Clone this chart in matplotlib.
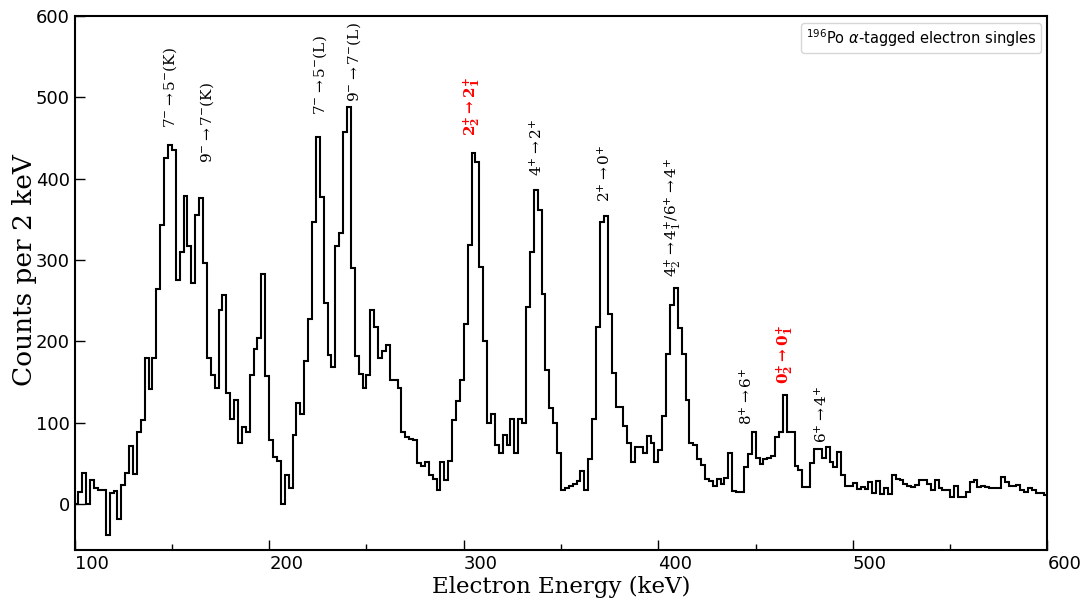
import matplotlib
matplotlib.use('Agg')
import matplotlib.pyplot as plt
from matplotlib.lines import Line2D
import numpy as np

# 2 keV bins from 100 to 600 keV
bin_lo = 100
bin_hi = 600
bin_w = 2

counts = [
    0, 15, 38, 0, 29, 20, 17, 17, -38, 13,            # 100-120
    16, -18, 23, 38, 71, 37, 89, 103, 180, 141,       # 120-140
    179, 264, 343, 425, 442, 435, 275, 310, 379, 317, # 140-160
    272, 356, 376, 296, 180, 158, 143, 239, 257, 137, # 160-180
    104, 128, 75, 94, 88, 158, 190, 204, 283, 157,    # 180-200
    79, 58, 53, 0, 36, 19, 85, 124, 111, 176,         # 200-220
    227, 347, 451, 378, 247, 183, 168, 317, 333, 457, # 220-240
    488, 290, 182, 160, 142, 158, 238, 218, 180, 188, # 240-260
    195, 153, 153, 143, 89, 82, 80, 79, 50, 47,       # 260-280
    52, 36, 30, 17, 51, 29, 53, 103, 126, 153,        # 280-300
    221, 318, 432, 421, 292, 201, 100, 111, 72, 63,   # 300-320
    85, 72, 104, 62, 104, 100, 242, 310, 386, 362,    # 320-340
    258, 165, 118, 100, 62, 17, 20, 22, 25, 28,       # 340-360
    40, 17, 55, 105, 218, 347, 354, 234, 161, 119,    # 360-380
    119, 96, 75, 52, 70, 70, 62, 83, 75, 52,          # 380-400
    66, 108, 185, 245, 265, 216, 185, 128, 75, 72,    # 400-420
    55, 48, 30, 28, 22, 30, 25, 32, 63, 16,           # 420-440
    14, 14, 45, 61, 89, 56, 49, 55, 57, 59,           # 440-460
    82, 89, 134, 89, 88, 47, 42, 21, 21, 50,          # 460-480
    68, 68, 56, 70, 52, 45, 64, 35, 22, 22,           # 480-500
    26, 18, 21, 18, 27, 13, 28, 12, 19, 12,           # 500-520
    35, 30, 29, 25, 22, 21, 23, 29, 29, 25,           # 520-540
    17, 29, 19, 17, 17, 9, 22, 9, 9, 15,              # 540-560
    27, 29, 21, 22, 21, 19, 19, 19, 33, 27,           # 560-580
    22, 22, 23, 17, 14, 19, 17, 13, 13, 11,           # 580-600
]

# transition labels: text, energy (keV), count where the label starts, colour
lab_text = [r'$7^{-}\rightarrow5^{-}$(K)', r'$9^{-}\rightarrow7^{-}$(K)',
            r'$7^{-}\rightarrow5^{-}$(L)', r'$9^{-}\rightarrow7^{-}$(L)',
            r'$\mathbf{2^{+}_{2}\rightarrow2^{+}_{1}}$', r'$4^{+}\rightarrow2^{+}$',
            r'$2^{+}\rightarrow0^{+}$', r'$4^{+}_{2}\rightarrow4^{+}_{1}/6^{+}\rightarrow4^{+}$',
            r'$8^{+}\rightarrow6^{+}$', r'$\mathbf{0^{+}_{2}\rightarrow0^{+}_{1}}$',
            r'$6^{+}\rightarrow4^{+}$']
lab_e = [149, 168, 226, 243.6, 304.3, 337.7, 372.6, 407.5, 445.6, 465, 484]
lab_c = [462, 420, 478, 494, 452, 404, 371, 279, 97, 147, 75]
lab_col = ['black', 'black', 'black', 'black', 'red', 'black',
           'black', 'black', 'black', 'red', 'black']

edges = np.arange(bin_lo, bin_hi + bin_w, bin_w)

fig = plt.figure(figsize=(10.81, 6.0), dpi=100)
ax = fig.add_axes([0.069, 0.083, 0.9, 0.89])

ax.stairs(counts, edges, baseline=None, color='black', lw=1.5)

for s, e, c, col in zip(lab_text, lab_e, lab_c, lab_col):
    ax.text(e, c, s, rotation=90, ha='center', va='bottom', color=col,
            fontsize=11, family='DejaVu Serif', math_fontfamily='dejavuserif',
            fontweight='bold' if col == 'red' else 'normal')

ax.set_xlim(100, 600)
ax.set_ylim(-57, 600)
ax.set_xticks(np.arange(100, 601, 100))
ax.set_xticks(np.arange(150, 600, 100), minor=True)
ax.set_yticks(np.arange(0, 601, 100))
ax.tick_params(which='major', direction='in', length=7, width=1, labelsize=13)
ax.tick_params(which='minor', direction='in', length=4, width=1)
for t in ax.get_xticklabels():
    t.set_horizontalalignment('left')
for sp in ax.spines.values():
    sp.set_linewidth(1.5)

ax.set_xlabel('Electron Energy (keV)', family='DejaVu Serif', fontsize=16.5, labelpad=2)
ax.set_ylabel('Counts per 2 keV', family='DejaVu Serif', fontsize=19)
ax.yaxis.set_label_coords(-0.039, 0.525)

ax.legend(handles=[Line2D([], [], ls='none')],
          labels=[r'$^{196}$Po $\alpha$-tagged electron singles'],
          loc='upper right', handlelength=0, handletextpad=0, fontsize=10.5,
          borderpad=0.3, borderaxespad=0.45)

fig.savefig('out.png', dpi=100)
